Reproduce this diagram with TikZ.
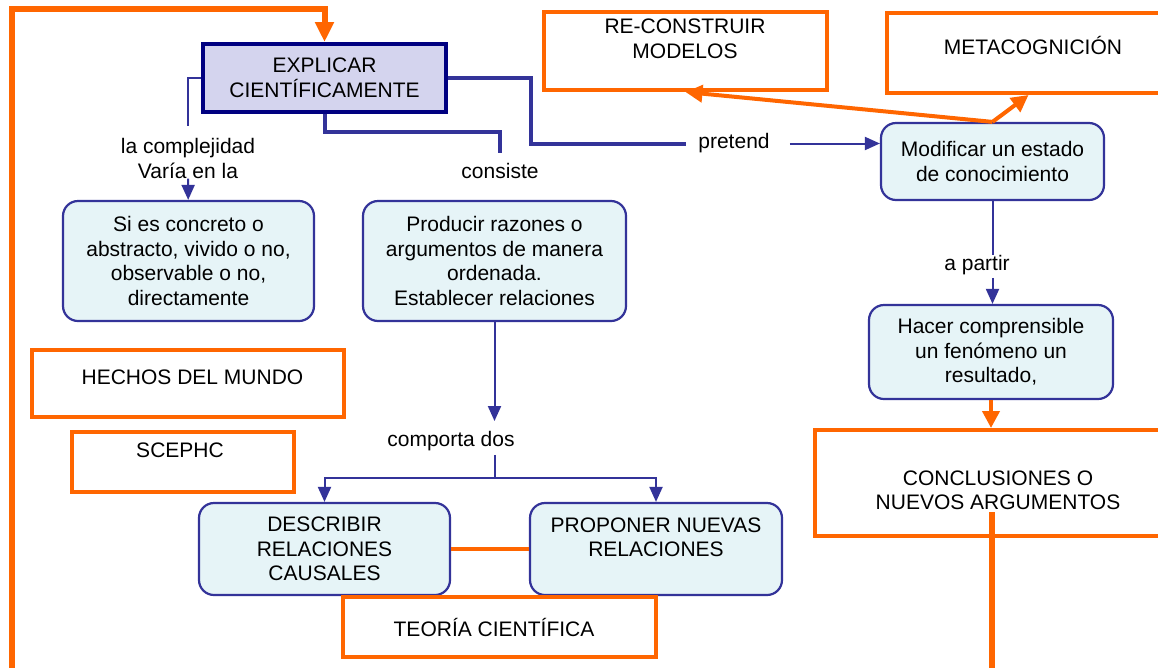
\documentclass[tikz,border=0pt]{standalone}
\usepackage{fontspec}
\setmainfont{Liberation Sans}
\usetikzlibrary{arrows.meta}
\definecolor{orng}{HTML}{FF6600}
\definecolor{navyb}{HTML}{333399}
\definecolor{navyd}{HTML}{000080}
\definecolor{boxfill}{HTML}{E6F4F7}
\definecolor{lavfill}{HTML}{D4D4EE}
\begin{document}
\begin{tikzpicture}[x=1pt,y=-1pt,
  every node/.style={font=\fontsize{21}{24.5}\selectfont, inner sep=0pt, align=center},
  obox/.style={draw=orng, line width=4pt, fill=white},
  rbox/.style={draw=navyb, line width=2.2pt, fill=boxfill, rounded corners=15pt},
  mainbox/.style={draw=navyd, line width=4pt, fill=lavfill},
  bthick/.style={draw=navyb, line width=4pt},
  bthin/.style={draw=navyb, line width=2pt},
  barrow/.style={bthin, -{Triangle[width=13pt,length=15pt]}},
  othick/.style={draw=orng, line width=6pt},
  oline/.style={draw=orng, line width=4pt},
  oarrow/.style={oline, -{Triangle[width=17pt,length=17pt]}},
]
\useasboundingbox (0,0) rectangle (1158,667);
\fill[white] (0,0) rectangle (1158,667);
\clip (0,0) rectangle (1158,667);

% central concept
\node[mainbox, minimum width=243pt, minimum height=68pt] (explicar) at (324.5,78) {EXPLICAR\\CIENTÍFICAMENTE};

% orange frames with their captions
\node[obox, minimum width=283pt, minimum height=78pt] (recon) at (685.5,51) {};
\node (recont) at (685,39) {RE-CONSTRUIR\\MODELOS};
\node[obox, minimum width=283pt, minimum height=80pt] (meta) at (1028.5,53) {};
\node (metat) at (1033,45.5) {METACOGNICIÓN};
\node[obox, minimum width=312pt, minimum height=67pt] (hechos) at (188,383.5) {};
\node (hechost) at (192.5,377.5) {HECHOS DEL MUNDO};
\node[obox, minimum width=222pt, minimum height=60pt] (sceph) at (183,462) {};
\node (scepht) at (180,450.5) {SCEPHC};

% rounded concept boxes
\node[rbox, minimum width=223pt, minimum height=77pt] (modif) at (992.5,161.5) {Modificar un estado\\de conocimiento};
\node[rbox, minimum width=244pt, minimum height=94pt] (hacer) at (991,352) {Hacer comprensible\\un fenómeno un\\resultado,};
\node[rbox, minimum width=251pt, minimum height=120pt] (si) at (188.5,261) {Si es concreto o\\abstracto, vivido o no,\\observable o no,\\directamente};
\node[rbox, minimum width=263pt, minimum height=120pt] (prod) at (494.5,261) {Producir razones o\\argumentos de manera\\ordenada.\\Establecer relaciones};
\node[rbox, minimum width=251pt, minimum height=92pt] (desc) at (324.5,549) {DESCRIBIR\\RELACIONES\\CAUSALES};
\node[rbox, minimum width=252pt, minimum height=92pt] (prop) at (656,549) {};
\node (propt) at (656,537.5) {PROPONER NUEVAS\\RELACIONES};

\node[obox, minimum width=313pt, minimum height=60pt] (teoria) at (499.5,627) {};
\node (teoriat) at (494,627.5) {TEORÍA CIENTÍFICA};
\node[obox, minimum width=355pt, minimum height=106pt] (concl) at (992.5,483) {};
\node (conclt) at (998,490.5) {CONCLUSIONES O\\NUEVOS ARGUMENTOS};

% linking words
\node (lcomp) at (188,158.5) {la complejidad\\Varía en la};
\node (consiste) at (500,171) {consiste};
\node (pretend) at (734,143.5) {pretend};
\node (apartir) at (977,265) {a partir};
\node (comporta) at (451,441) {comporta dos};

% blue connectors
\draw[bthin, shorten >=12pt] (explicar.west) -| (lcomp.north);
\draw[barrow] (lcomp) -- (si);
\draw[bthick, shorten >=10pt] (explicar.south) -- ++(0,18) -| (consiste.north);
\draw[bthick, shorten >=12pt] (explicar.east) -- ++(83,0) |- (pretend.west);
\draw[barrow, shorten <=20pt] (pretend.east) -- (pretend.east -| modif.west);
\draw[bthin] (modif.south) -- (modif.south |- apartir.north);
\draw[barrow, shorten <=3pt] (modif.south |- apartir.south) -- (modif.south |- hacer.north);
\draw[barrow, shorten >=10pt] (prod.south) -- (prod.south |- comporta.north);
\draw[bthin, shorten <=4pt] (comporta.south -| prod.south) -- ++(0,27) coordinate (split);
\draw[barrow] (split) -| (desc.north);
\draw[barrow] (split) -| (prop.north);

% orange connectors
\draw[oline] (desc.east) -- (prop.west);
\draw[oarrow] (modif.north) -- (recon.south);
\draw[oarrow] (modif.north) -- (meta.south);
\draw[oarrow] (hacer.south) -- (hacer.south |- concl.north);
\coordinate (cstart) at (992,512);
\coordinate (cend) at (992,672);
\draw[othick] (cstart) -- (cend);
\coordinate (fstart) at (12,672);
\draw[othick, -{Triangle[width=18pt,length=20pt]}] (fstart) |- ([yshift=33pt]explicar.north) -- (explicar.north);
\end{tikzpicture}
\end{document}
